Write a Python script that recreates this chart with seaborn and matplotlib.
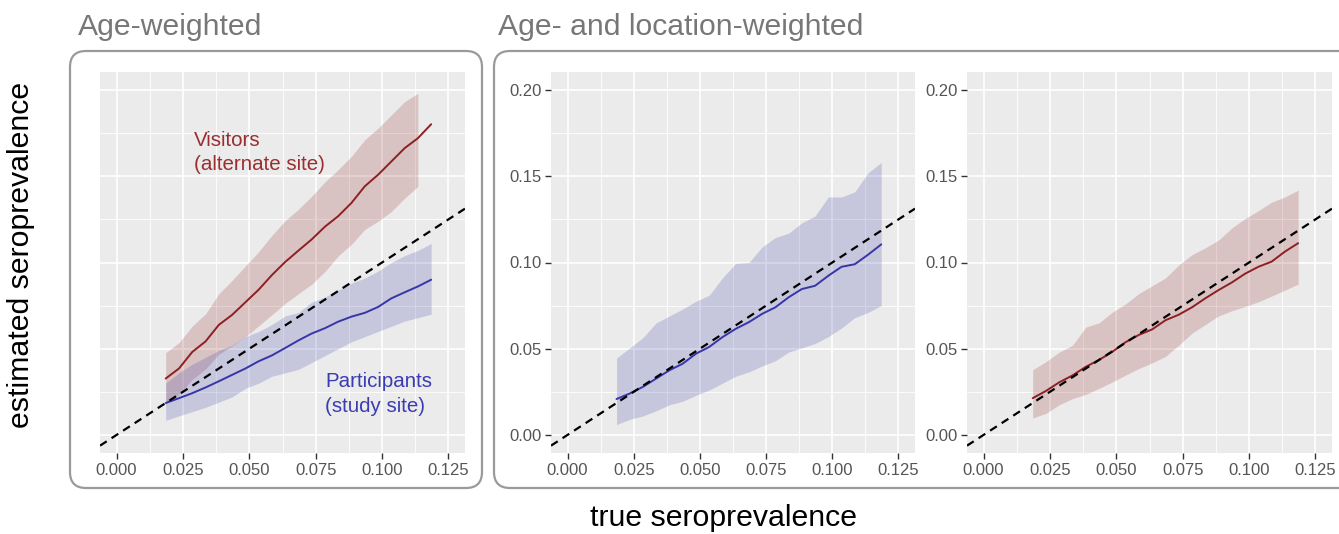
import numpy as np
import pandas as pd
import matplotlib
matplotlib.use("Agg")
import matplotlib.pyplot as plt
import seaborn as sns
from matplotlib.patches import FancyBboxPatch

# ---------------- data ----------------
true_prev = [0.0185, 0.0235, 0.0285, 0.0335, 0.0385, 0.0435, 0.0485, 0.0535, 0.0585, 0.0635,
             0.0685, 0.0735, 0.0785, 0.0835, 0.0885, 0.0935, 0.0985, 0.1035, 0.1085, 0.1135, 0.1185]

# Panel 1 (age-weighted) - visitors (alternate site)
vis_age = [0.0327, 0.0385, 0.0481, 0.0542, 0.0638, 0.0696, 0.0769, 0.0842, 0.0927, 0.1003,
           0.1069, 0.1134, 0.1208, 0.1269, 0.1346, 0.1442, 0.1509, 0.1586, 0.1663, 0.1721, 0.1802]
vis_age_hi = [0.0477, 0.0535, 0.0631, 0.0702, 0.0818, 0.0896, 0.0979, 0.1062, 0.1157, 0.1243,
              0.1309, 0.1384, 0.1468, 0.1539, 0.1616, 0.1712, 0.1779, 0.1856, 0.1933, 0.1981]
vis_age_lo = [0.0177, 0.0235, 0.0321, 0.0382, 0.0468, 0.0516, 0.0569, 0.0632, 0.0697, 0.0763,
              0.0819, 0.0874, 0.0948, 0.1039, 0.1106, 0.1192, 0.1239, 0.1296, 0.1373, 0.1441]

# Panel 1 (age-weighted) - participants (study site)
par_age = [0.0185, 0.0213, 0.0242, 0.0275, 0.0311, 0.0348, 0.0385, 0.0427, 0.0461, 0.0504,
           0.0548, 0.0588, 0.0619, 0.0657, 0.0686, 0.0708, 0.0742, 0.0792, 0.0827, 0.0861, 0.0900]
par_age_hi = [0.030, 0.036, 0.041, 0.045, 0.049, 0.052, 0.057, 0.060, 0.064, 0.069,
              0.071, 0.077, 0.080, 0.084, 0.088, 0.091, 0.095, 0.100, 0.104, 0.107, 0.111]
par_age_lo = [0.0085, 0.011, 0.0135, 0.016, 0.019, 0.022, 0.027, 0.030, 0.034, 0.036,
              0.038, 0.042, 0.046, 0.050, 0.054, 0.057, 0.060, 0.063, 0.066, 0.068, 0.070]

# Panel 2 (age- and location-weighted) - participants
par_loc = [0.0208, 0.0240, 0.0279, 0.0327, 0.0375, 0.0413, 0.0471, 0.0510, 0.0567, 0.0615,
           0.0654, 0.0702, 0.0740, 0.0798, 0.0846, 0.0865, 0.0923, 0.0975, 0.0990, 0.1045, 0.1105]
par_loc_hi = [0.0445, 0.0505, 0.0565, 0.065, 0.069, 0.073, 0.0775, 0.081, 0.091, 0.0995,
              0.100, 0.109, 0.1145, 0.117, 0.123, 0.127, 0.138, 0.138, 0.141, 0.152, 0.158]
par_loc_lo = [0.006, 0.009, 0.011, 0.014, 0.0175, 0.0195, 0.023, 0.026, 0.030, 0.034,
              0.0365, 0.040, 0.043, 0.048, 0.0505, 0.053, 0.057, 0.062, 0.068, 0.071, 0.075]

# Panel 3 (age- and location-weighted) - visitors
vis_loc = [0.0213, 0.0255, 0.0305, 0.0345, 0.0395, 0.0435, 0.0482, 0.0538, 0.0580, 0.0612,
           0.0665, 0.0697, 0.0740, 0.0792, 0.0840, 0.0884, 0.0935, 0.0975, 0.1005, 0.1063, 0.1112]
vis_loc_hi = [0.0378, 0.0425, 0.0480, 0.0520, 0.0625, 0.0650, 0.0712, 0.0760, 0.0820, 0.0865,
              0.0910, 0.0985, 0.1045, 0.1085, 0.1130, 0.1200, 0.1255, 0.1300, 0.1350, 0.1380, 0.1420]
vis_loc_lo = [0.0098, 0.0125, 0.0175, 0.0211, 0.0235, 0.0270, 0.0307, 0.0347, 0.0385, 0.0418,
              0.0455, 0.0520, 0.0590, 0.0640, 0.0690, 0.0720, 0.0745, 0.0772, 0.0805, 0.0840, 0.0875]

x_ticks = [0.000, 0.025, 0.050, 0.075, 0.100, 0.125]
x_tick_labels = ["0.000", "0.025", "0.050", "0.075", "0.100", "0.125"]
y_ticks = [0.00, 0.05, 0.10, 0.15, 0.20]
y_tick_labels = ["0.00", "0.05", "0.10", "0.15", "0.20"]

# ---------------- style ----------------
sns.set_theme(style="darkgrid")
plt.rcParams["font.family"] = ["Liberation Sans", "DejaVu Sans"]

RED = "#8E1F22"
BLUE = "#3636A8"
RED_TXT = "#9A2E30"
BLUE_TXT = "#3B3BB2"
BG = "#EBEBEB"
TICK_COL = "#555555"

W, H = 1339, 534
fig = plt.figure(figsize=(W / 100, H / 100), dpi=100)
fig.patch.set_facecolor("white")


def px_axes(left, right, top, bottom):
    return fig.add_axes([left / W, 1 - bottom / H, (right - left) / W, (bottom - top) / H])


ax1 = px_axes(100, 465, 72, 453)
ax2 = px_axes(551, 915, 72, 453)
ax3 = px_axes(967, 1332, 72, 453)

panels = [
    (ax1, [(vis_age, vis_age_lo, vis_age_hi, RED), (par_age, par_age_lo, par_age_hi, BLUE)], False),
    (ax2, [(par_loc, par_loc_lo, par_loc_hi, BLUE)], True),
    (ax3, [(vis_loc, vis_loc_lo, vis_loc_hi, RED)], True),
]

for ax, series, show_y in panels:
    ax.set_facecolor(BG)
    for line, lo, hi, col in series:
        xb = true_prev[:len(lo)]
        ax.fill_between(xb, lo, hi, color=col, alpha=0.2, linewidth=0, zorder=2)
        df = pd.DataFrame({"x": true_prev, "y": line})
        sns.lineplot(data=df, x="x", y="y", ax=ax, color=col, linewidth=1.4, zorder=3)
    ax.axline((0, 0), slope=1, color="black", linestyle=(0, (3.6, 2.6)), linewidth=1.6, zorder=4)
    ax.set_xlim(-0.00625, 0.13125)
    ax.set_ylim(-0.0105, 0.2105)
    ax.set_xticks(x_ticks)
    ax.set_xticklabels(x_tick_labels)
    ax.set_xticks([0.0125, 0.0375, 0.0625, 0.0875, 0.1125], minor=True)
    ax.set_yticks(y_ticks)
    ax.set_yticks([0.025, 0.075, 0.125, 0.175], minor=True)
    ax.set_yticklabels(y_tick_labels)
    ax.grid(which="major", color="white", linewidth=1.2)
    ax.grid(which="minor", color="white", linewidth=0.6)
    ax.set_axisbelow(True)
    for s in ax.spines.values():
        s.set_visible(False)
    ax.tick_params(axis="both", which="major", length=4, width=1.0, color="#333333",
                   labelsize=12, labelcolor=TICK_COL, pad=3, bottom=True, left=True)
    ax.tick_params(axis="both", which="minor", length=0)
    if not show_y:
        ax.tick_params(axis="y", which="both", length=0, labelleft=False, left=False)
    ax.set_xlabel("")
    ax.set_ylabel("")

# annotations in panel 1
ax1.text(0.0292, 0.1765, "Visitors\n(alternate site)", color=RED_TXT, fontsize=14.8,
         ha="left", va="top", linespacing=1.38, zorder=5)
ax1.text(0.0786, 0.0365, "Participants\n(study site)", color=BLUE_TXT, fontsize=14.8,
         ha="left", va="top", linespacing=1.38, zorder=5)

# rounded boxes
box_kw = dict(boxstyle="round,pad=0,rounding_size=0.16", transform=fig.dpi_scale_trans,
              facecolor="none", edgecolor="#9A9A9A", linewidth=1.6, zorder=0)
fig.patches.append(FancyBboxPatch((0.70, (H - 488) / 100), 4.12, 4.37, **box_kw))
fig.patches.append(FancyBboxPatch((4.94, (H - 488) / 100), 8.70, 4.37, **box_kw))

# titles
fig.text(78 / W, 1 - 27 / H, "Age-weighted", color="#777777", fontsize=21.7, ha="left", va="center")
fig.text(498 / W, 1 - 27 / H, "Age- and location-weighted", color="#777777", fontsize=21.7,
         ha="left", va="center")

# axis labels
fig.text(724 / W, 1 - 518 / H, "true seroprevalence", color="black", fontsize=21.8,
         ha="center", va="center")
fig.text(21 / W, 1 - 255 / H, "estimated seroprevalence", color="black", fontsize=21.8,
         ha="center", va="center", rotation=90)

fig.savefig("out.png", dpi=100, facecolor="white")
